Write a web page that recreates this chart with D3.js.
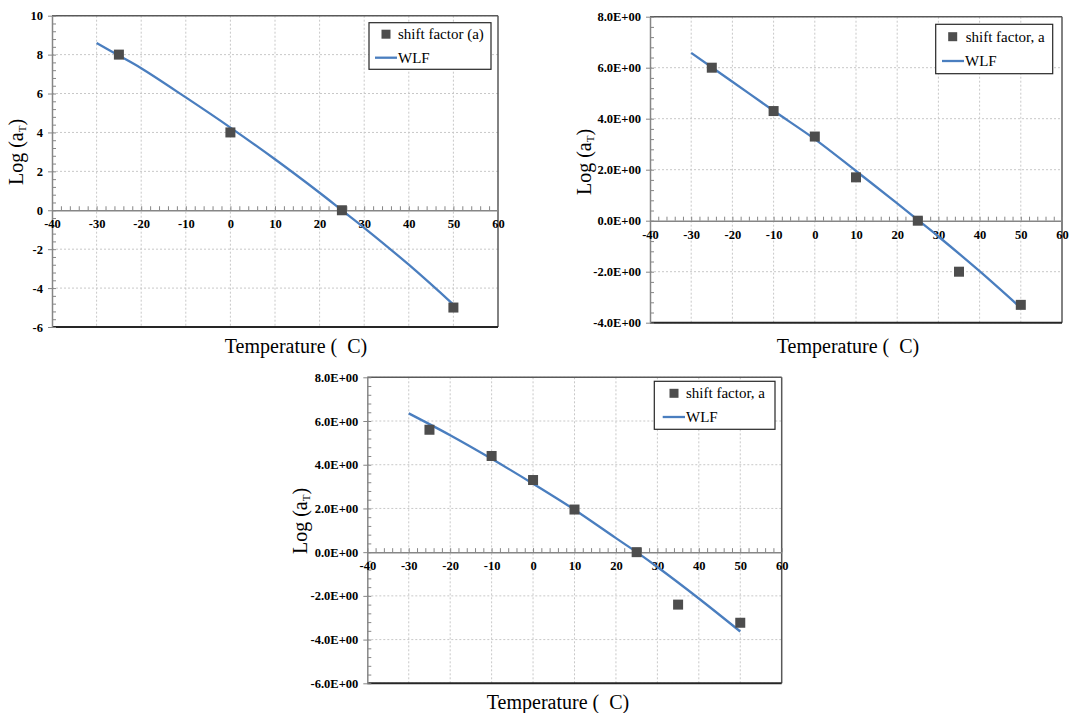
<!DOCTYPE html>
<html>
<head>
<meta charset="utf-8">
<title>Shift factor vs temperature</title>
<script src="https://cdn.jsdelivr.net/npm/d3@7"></script>
<style>
body { margin: 0; background: #fff; }
svg { display: block; font-family: "Liberation Serif", "Times New Roman", serif; }
</style>
</head>
<body>
<script>

// temperature axis, shared by the three panels
const tempDomain = [-40, 60];
const xTickValues = [-40, -30, -20, -10, 0, 10, 20, 30, 40, 50, 60];
const xTickLabels = ["-40", "-30", "-20", "-10", "0", "10", "20", "30", "40", "50", "60"];

// panel 1 (top left)
const p1Temp = [-25, 0, 25, 50];
const p1Shift = [8, 4, 0, -5];
const p1WlfTemp = [-30, -25, -20, -10, 0, 10, 20, 25, 30, 40, 50];
const p1WlfLog = [8.6, 7.95, 7.3, 5.8, 4.25, 2.62, 0.9, 0.0, -0.9, -2.8, -4.85];
const p1YTickValues = [-6, -4, -2, 0, 2, 4, 6, 8, 10];
const p1YTickLabels = ["-6", "-4", "-2", "0", "2", "4", "6", "8", "10"];
const p1Legend = ["shift factor (a)", "WLF"];

// panel 2 (top right)
const p2Temp = [-25, -10, 0, 10, 25, 35, 50];
const p2Shift = [6.0, 4.3, 3.3, 1.7, 0, -2.0, -3.3];
const p2WlfTemp = [-30, -20, -10, 0, 10, 20, 25, 30, 40, 50];
const p2WlfLog = [6.58, 5.45, 4.31, 3.2, 1.95, 0.68, 0.03, -0.62, -1.98, -3.42];
const p2YTickValues = [-4, -2, 0, 2, 4, 6, 8];
const p2YTickLabels = ["-4.0E+00", "-2.0E+00", "0.0E+00", "2.0E+00", "4.0E+00", "6.0E+00", "8.0E+00"];
const p2Legend = ["shift factor, a", "WLF"];

// panel 3 (bottom)
const p3Temp = [-25, -10, 0, 10, 25, 35, 50];
const p3Shift = [5.6, 4.4, 3.3, 1.95, 0, -2.4, -3.23];
const p3WlfTemp = [-30, -20, -10, 0, 10, 20, 25, 30, 40, 50];
const p3WlfLog = [6.35, 5.35, 4.27, 3.13, 1.94, 0.64, 0.0, -0.68, -2.12, -3.63];
const p3YTickValues = [-6, -4, -2, 0, 2, 4, 6, 8];
const p3YTickLabels = ["-6.0E+00", "-4.0E+00", "-2.0E+00", "0.0E+00", "2.0E+00", "4.0E+00", "6.0E+00", "8.0E+00"];
const p3Legend = ["shift factor, a", "WLF"];

const xTitle = "Temperature (\u00A0\u00A0C)";

const LINE_BLUE = "#4a7ebf";
const MARKER = "#4d4d4d";
const AXIS_GRAY = "#868686";
const SERIF = "'Liberation Serif', 'Times New Roman', serif";

const svg = d3.select("body").append("svg")
  .attr("width", 1089).attr("height", 713);

function drawPanel(cfg) {
  const x = d3.scaleLinear().domain(tempDomain).range([cfg.left, cfg.right]);
  const y = d3.scaleLinear().domain(cfg.yDomain).range([cfg.bottom, cfg.top]);
  const g = svg.append("g");

  // dotted grid
  g.append("g").selectAll("line").data(xTickValues.slice(1, -1)).join("line")
    .attr("x1", d => x(d)).attr("x2", d => x(d))
    .attr("y1", cfg.top).attr("y2", cfg.bottom)
    .attr("stroke", "#c8c8c8").attr("stroke-dasharray", "2,2");
  g.append("g").selectAll("line").data(cfg.yTicks.filter(d => d != 0)).join("line")
    .attr("x1", cfg.left).attr("x2", cfg.right)
    .attr("y1", d => y(d)).attr("y2", d => y(d))
    .attr("stroke", "#c8c8c8").attr("stroke-dasharray", "2,2");

  // frame
  g.append("line").attr("x1", cfg.left).attr("x2", cfg.right)
    .attr("y1", cfg.top).attr("y2", cfg.top)
    .attr("stroke", "#595959").attr("stroke-width", 1.5);
  g.append("line").attr("x1", cfg.right).attr("x2", cfg.right)
    .attr("y1", cfg.top).attr("y2", cfg.bottom)
    .attr("stroke", "#595959").attr("stroke-width", 1.5);
  g.append("line").attr("x1", cfg.left).attr("x2", cfg.right)
    .attr("y1", cfg.bottom).attr("y2", cfg.bottom)
    .attr("stroke", "#262626").attr("stroke-width", 2);

  // y axis: minor ticks inside, labelled major ticks outside
  const yMinor = d3.range(cfg.yDomain[0], cfg.yDomain[1] + 1e-9, 0.4);
  g.append("g").attr("transform", `translate(${cfg.left},0)`)
    .call(d3.axisLeft(y).tickValues(yMinor).tickSize(-4).tickSizeOuter(0).tickFormat(""))
    .call(a => a.selectAll("line").attr("stroke", AXIS_GRAY))
    .call(a => a.select(".domain").remove());
  g.append("g").attr("transform", `translate(${cfg.left},0)`)
    .call(d3.axisLeft(y).tickValues(cfg.yTicks).tickSize(4).tickSizeOuter(0).tickPadding(5)
      .tickFormat(d => cfg.yLabels[cfg.yTicks.indexOf(d)]))
    .call(a => a.select(".domain").attr("stroke", AXIS_GRAY).attr("stroke-width", 1.5))
    .call(a => a.selectAll("line").attr("stroke", AXIS_GRAY))
    .call(a => a.selectAll("text")
      .style("font-family", SERIF)
      .attr("font-size", 12.5).attr("font-weight", "bold").attr("fill", "#000"));

  // x axis crossing at zero
  const y0 = y(0);
  g.append("g").attr("transform", `translate(0,${y0})`)
    .call(d3.axisBottom(x).tickValues(d3.range(-40, 61, 2)).tickSize(-4).tickSizeOuter(0).tickFormat(""))
    .call(a => a.selectAll("line").attr("stroke", AXIS_GRAY))
    .call(a => a.select(".domain").remove());
  g.append("g").attr("transform", `translate(0,${y0})`)
    .call(d3.axisBottom(x).tickValues(xTickValues).tickSize(0).tickSizeOuter(0).tickPadding(9)
      .tickFormat(d => xTickLabels[xTickValues.indexOf(d)]))
    .call(a => a.select(".domain").attr("stroke", AXIS_GRAY).attr("stroke-width", 1.5))
    .call(a => a.selectAll("text")
      .style("font-family", SERIF)
      .attr("font-size", 12.5).attr("font-weight", "bold").attr("fill", "#000"));

  // WLF curve
  const wlf = cfg.wlfT.map((t, i) => [t, cfg.wlfLog[i]]);
  g.append("path").datum(wlf)
    .attr("d", d3.line().x(d => x(d[0])).y(d => y(d[1])).curve(d3.curveCatmullRom))
    .attr("fill", "none").attr("stroke", LINE_BLUE).attr("stroke-width", 2.3);

  // measured shift factors
  const pts = cfg.temp.map((t, i) => [t, cfg.shift[i]]);
  g.append("g").selectAll("rect").data(pts).join("rect")
    .attr("x", d => x(d[0]) - 5).attr("y", d => y(d[1]) - 5)
    .attr("width", 10).attr("height", 10).attr("fill", MARKER);

  // legend
  const L = cfg.legendBox;
  const lg = g.append("g").attr("transform", `translate(${L.x},${L.y})`);
  lg.append("rect").attr("width", L.w).attr("height", L.h)
    .attr("fill", "#fff").attr("stroke", "#262626").attr("stroke-width", 1.2);
  lg.append("rect").attr("x", L.sx - 4.5).attr("y", L.r1 - 4.5)
    .attr("width", 9).attr("height", 9).attr("fill", MARKER);
  lg.append("line").attr("x1", L.lx1).attr("x2", L.lx2)
    .attr("y1", L.r2).attr("y2", L.r2)
    .attr("stroke", LINE_BLUE).attr("stroke-width", 2.3);
  lg.selectAll("text").data(cfg.legend).join("text")
    .attr("x", (d, i) => i == 0 ? L.tx : L.lx2 + 1)
    .attr("y", (d, i) => (i == 0 ? L.r1 : L.r2) + 5)
    .attr("font-size", 15).attr("fill", "#000")
    .text(d => d);

  // axis titles
  g.append("text")
    .attr("x", cfg.xTitle[0]).attr("y", cfg.xTitle[1])
    .attr("text-anchor", "middle").attr("font-size", 20)
    .text(xTitle);
  const yt = g.append("text")
    .attr("transform", `translate(${cfg.yTitle[0]},${cfg.yTitle[1]}) rotate(-90)`)
    .attr("text-anchor", "middle").attr("font-size", 20);
  yt.append("tspan").text("Log (a");
  yt.append("tspan").attr("font-size", 11).attr("dy", 3).text("T");
  yt.append("tspan").attr("dy", -3).text(")");
}

drawPanel({
  left: 52, right: 498, top: 15.7, bottom: 327,
  yDomain: [-6, 10], yTicks: p1YTickValues, yLabels: p1YTickLabels,
  temp: p1Temp, shift: p1Shift, wlfT: p1WlfTemp, wlfLog: p1WlfLog,
  legend: p1Legend,
  legendBox: {x: 369, y: 22.7, w: 122, h: 46.6, sx: 17, r1: 11.5, r2: 35, lx1: 6, lx2: 28, tx: 29},
  xTitle: [296, 353], yTitle: [23, 152]
});

drawPanel({
  left: 650, right: 1062, top: 16.7, bottom: 322.7,
  yDomain: [-4, 8], yTicks: p2YTickValues, yLabels: p2YTickLabels,
  temp: p2Temp, shift: p2Shift, wlfT: p2WlfTemp, wlfLog: p2WlfLog,
  legend: p2Legend,
  legendBox: {x: 935.7, y: 24.3, w: 117, h: 49.4, sx: 17, r1: 12.4, r2: 36.7, lx1: 6.3, lx2: 28.3, tx: 30},
  xTitle: [848, 353], yTitle: [591, 162]
});

drawPanel({
  left: 367.3, right: 781.7, top: 377.3, bottom: 683.3,
  yDomain: [-6, 8], yTicks: p3YTickValues, yLabels: p3YTickLabels,
  temp: p3Temp, shift: p3Shift, wlfT: p3WlfTemp, wlfLog: p3WlfLog,
  legend: p3Legend,
  legendBox: {x: 654.3, y: 381.3, w: 120.7, h: 48, sx: 19.7, r1: 12, r2: 35.7, lx1: 8.4, lx2: 30.7, tx: 31.7},
  xTitle: [558, 709], yTitle: [307, 521]
});

</script>
</body>
</html>
